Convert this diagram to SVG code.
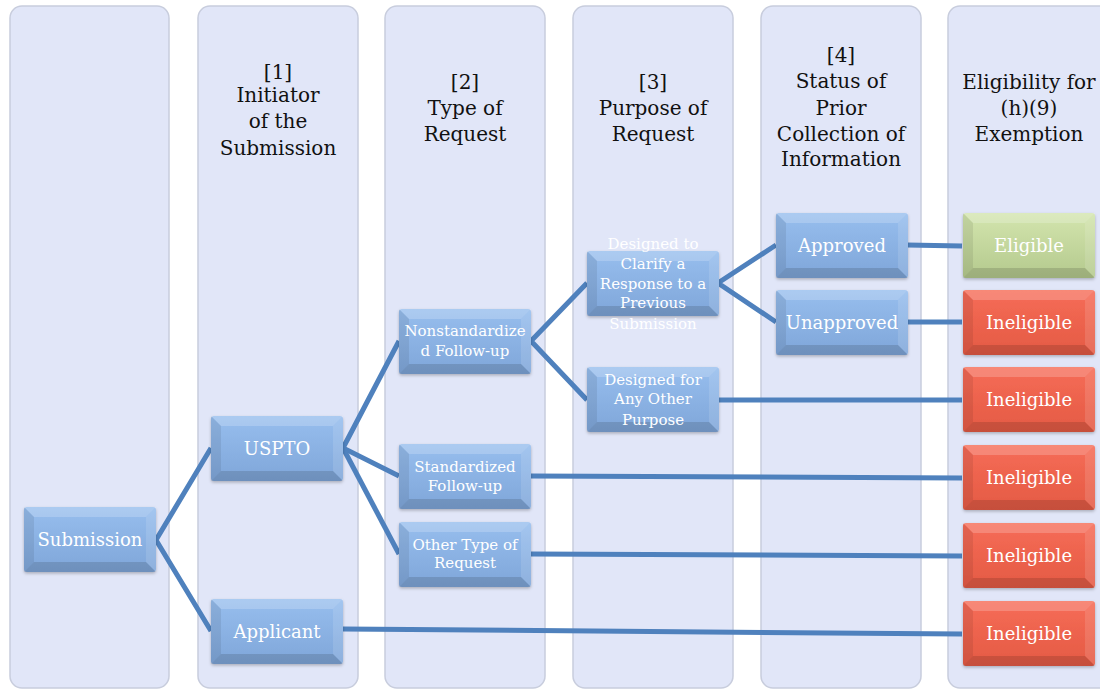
<svg xmlns="http://www.w3.org/2000/svg" xmlns:xlink="http://www.w3.org/1999/xlink" width="1100" height="690" viewBox="0 0 1100 690">
<style>
.col{fill:#E1E6F8;stroke:#C8CDDD;stroke-width:1.5}
.hd{font-family:"DejaVu Serif","Liberation Serif",serif;font-size:20px;fill:#111;text-anchor:middle}
.nt{font-family:"DejaVu Serif","Liberation Serif",serif;font-size:18px;fill:#fff;text-anchor:middle}
.st{font-family:"DejaVu Serif","Liberation Serif",serif;font-size:15px;fill:#fff;text-anchor:middle}
.cn{fill:none;stroke:#4F81BD;stroke-width:5;stroke-linecap:butt}
.lt{fill:#fff;opacity:.2}
.lt2{fill:#fff;opacity:.12}
.dk{fill:#000;opacity:.08}
.dk2{fill:#000;opacity:.13}
</style>
<defs>
<linearGradient id="gb" x1="0" y1="0" x2="0" y2="1"><stop offset="0" stop-color="#97BEEE"/><stop offset="1" stop-color="#7FA6D9"/></linearGradient>
<linearGradient id="gr" x1="0" y1="0" x2="0" y2="1"><stop offset="0" stop-color="#F66C57"/><stop offset="1" stop-color="#E45A44"/></linearGradient>
<linearGradient id="gg" x1="0" y1="0" x2="0" y2="1"><stop offset="0" stop-color="#D3E5AE"/><stop offset="1" stop-color="#B4C98D"/></linearGradient>
<filter id="sh" x="-10%" y="-10%" width="120%" height="130%"><feDropShadow dx="0" dy="1.5" stdDeviation="1.5" flood-color="#000" flood-opacity=".25"/></filter>
<g id="bev">
<polygon class="lt" points="0,0 132,0 122,10 10,10"/>
<polygon class="dk" points="0,0 10,10 10,55 0,65"/>
<polygon class="lt2" points="132,0 132,65 122,55 122,10"/>
<polygon class="dk2" points="0,65 132,65 122,55 10,55"/>
</g>
<g id="bb"><rect width="132" height="65" rx="3" fill="url(#gb)" filter="url(#sh)"/><use xlink:href="#bev"/></g>
<g id="br"><rect width="132" height="65" rx="3" fill="url(#gr)" filter="url(#sh)"/><use xlink:href="#bev"/></g>
<g id="bg"><rect width="132" height="65" rx="3" fill="url(#gg)" filter="url(#sh)"/><use xlink:href="#bev"/></g>
</defs>
<rect width="1100" height="690" fill="#fff"/>
<g id="columns">
<rect class="col" x="10" y="6" width="159" height="682" rx="12"/>
<rect class="col" x="198" y="6" width="160" height="682" rx="12"/>
<rect class="col" x="385" y="6" width="160" height="682" rx="12"/>
<rect class="col" x="573" y="6" width="160" height="682" rx="12"/>
<rect class="col" x="761" y="6" width="160" height="682" rx="12"/>
<rect class="col" x="948" y="6" width="170" height="682" rx="12"/>
</g>
<g id="headers">
<text class="hd" x="278" y="79">[1]</text>
<text class="hd" x="278" y="102">Initiator</text>
<text class="hd" x="278" y="128">of the</text>
<text class="hd" x="278" y="155">Submission</text>
<text class="hd" x="465" y="89">[2]</text>
<text class="hd" x="465" y="115">Type of</text>
<text class="hd" x="465" y="141">Request</text>
<text class="hd" x="653" y="89">[3]</text>
<text class="hd" x="653" y="115">Purpose of</text>
<text class="hd" x="653" y="141">Request</text>
<text class="hd" x="841" y="62">[4]</text>
<text class="hd" x="841" y="88">Status of</text>
<text class="hd" x="841" y="115">Prior</text>
<text class="hd" x="841" y="141">Collection of</text>
<text class="hd" x="841" y="166">Information</text>
<text class="hd" x="1029" y="89">Eligibility for</text>
<text class="hd" x="1029" y="115">(h)(9)</text>
<text class="hd" x="1029" y="141">Exemption</text>
</g>
<g id="connectors">
<polyline class="cn" points="211,448 156,540 211,631"/>
<polyline class="cn" points="399,341 343,448 399,476"/>
<line class="cn" x1="343" y1="448" x2="399" y2="554"/>
<polyline class="cn" points="587,283 531,341 587,400"/>
<polyline class="cn" points="776,245 718,283 776,322"/>
<line class="cn" x1="907" y1="245" x2="962" y2="246"/>
<line class="cn" x1="907" y1="322" x2="962" y2="322"/>
<line class="cn" x1="718" y1="400" x2="962" y2="400"/>
<line class="cn" x1="531" y1="476" x2="962" y2="478"/>
<line class="cn" x1="531" y1="554" x2="962" y2="556"/>
<line class="cn" x1="343" y1="629" x2="962" y2="634"/>
</g>
<g id="n-submission" transform="translate(24,507)"><use xlink:href="#bb"/><text class="nt" x="66" y="39">Submission</text></g>
<g id="n-uspto" transform="translate(211,416)"><use xlink:href="#bb"/><text class="nt" x="66" y="39">USPTO</text></g>
<g id="n-applicant" transform="translate(211,599)"><use xlink:href="#bb"/><text class="nt" x="66" y="39">Applicant</text></g>
<g id="n-nonstd" transform="translate(399,309)"><use xlink:href="#bb"/><text class="st" x="66" y="27">Nonstandardize</text><text class="st" x="66" y="47">d Follow-up</text></g>
<g id="n-std" transform="translate(399,444)"><use xlink:href="#bb"/><text class="st" x="66" y="28">Standardized</text><text class="st" x="66" y="47">Follow-up</text></g>
<g id="n-other" transform="translate(399,522)"><use xlink:href="#bb"/><text class="st" x="66" y="28">Other Type of</text><text class="st" x="66" y="46">Request</text></g>
<g id="n-clarify" transform="translate(587,251)"><use xlink:href="#bb"/><text class="st" x="66" y="-2">Designed to</text><text class="st" x="66" y="18">Clarify a</text><text class="st" x="66" y="38">Response to a</text><text class="st" x="66" y="57">Previous</text><text class="st" x="66" y="78">Submission</text></g>
<g id="n-anyother" transform="translate(587,367)"><use xlink:href="#bb"/><text class="st" x="66" y="18">Designed for</text><text class="st" x="66" y="37">Any Other</text><text class="st" x="66" y="58">Purpose</text></g>
<g id="n-approved" transform="translate(776,213)"><use xlink:href="#bb"/><text class="nt" x="66" y="39">Approved</text></g>
<g id="n-unapproved" transform="translate(776,290)"><use xlink:href="#bb"/><text class="nt" x="66" y="39">Unapproved</text></g>
<g id="n-eligible" transform="translate(963,213)"><use xlink:href="#bg"/><text class="nt" x="66" y="39">Eligible</text></g>
<g id="n-inel1" transform="translate(963,290)"><use xlink:href="#br"/><text class="nt" x="66" y="39">Ineligible</text></g>
<g id="n-inel2" transform="translate(963,367)"><use xlink:href="#br"/><text class="nt" x="66" y="39">Ineligible</text></g>
<g id="n-inel3" transform="translate(963,445)"><use xlink:href="#br"/><text class="nt" x="66" y="39">Ineligible</text></g>
<g id="n-inel4" transform="translate(963,523)"><use xlink:href="#br"/><text class="nt" x="66" y="39">Ineligible</text></g>
<g id="n-inel5" transform="translate(963,601)"><use xlink:href="#br"/><text class="nt" x="66" y="39">Ineligible</text></g>
</svg>
